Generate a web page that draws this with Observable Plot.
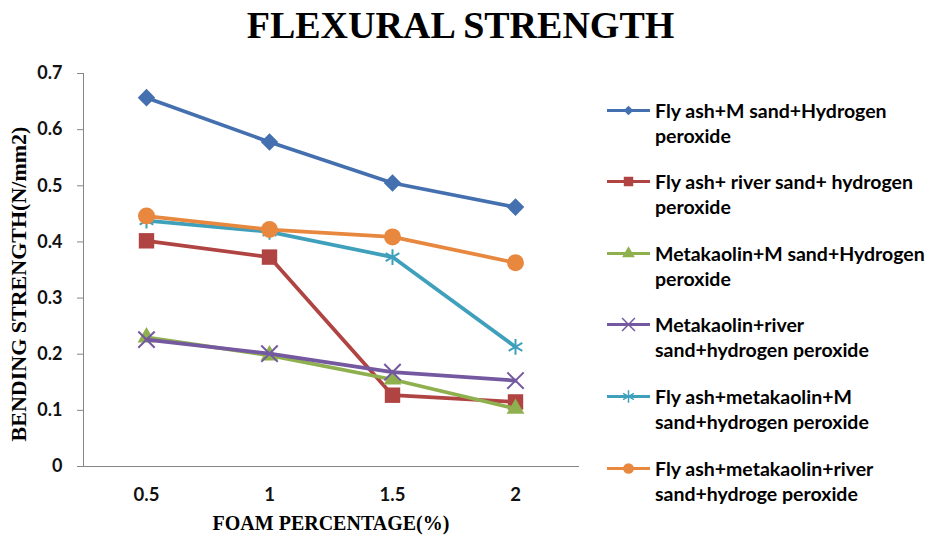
<!DOCTYPE html>
<html>
<head>
<meta charset="utf-8">
<script src="https://cdn.jsdelivr.net/npm/d3@7"></script>
<script src="https://cdn.jsdelivr.net/npm/@observablehq/plot@0.6"></script>
<style>
  body { margin: 0; background: #fff; }
  #wrap { position: relative; width: 930px; height: 536px; overflow: hidden; }
  #title {
    position: absolute; left: 0; top: 0; width: 921px; text-align: center;
    font: bold 38px "Liberation Serif", "Times New Roman", serif; line-height: 50px; color: #000;
  }
  #chart { position: absolute; left: 0; top: 50px; }
  #legend { position: absolute; left: 0; top: 0; }
  .entry { position: absolute; left: 605px; }
  .entry svg { position: absolute; left: 0; top: 0; }
  .entry .txt {
    position: absolute; left: 50px; top: 0; white-space: pre;
    font: bold 19.5px Lato, "Open Sans", sans-serif; line-height: 25px; color: #000;
  }
</style>
</head>
<body>
<div id="wrap">
  <div id="title">FLEXURAL STRENGTH</div>
  <div id="chart"></div>
  <div id="legend"></div>
</div>
<script>
// Foam percentage categories on the x axis
const categories = ["0.5", "1", "1.5", "2"];

// Bending strength (N/mm2) for each mix
const flyAshMSand = [0.657, 0.578, 0.505, 0.462];
const flyAshRiverSand = [0.402, 0.373, 0.127, 0.115];
const metakaolinMSand = [0.230, 0.198, 0.155, 0.103];
const metakaolinRiverSand = [0.226, 0.201, 0.168, 0.153];
const flyAshMetakaolinMSand = [0.438, 0.418, 0.373, 0.213];
const flyAshMetakaolinRiverSand = [0.446, 0.422, 0.409, 0.363];

const seriesNames = [
  "Fly ash+M sand+Hydrogen\nperoxide",
  "Fly ash+ river sand+ hydrogen\nperoxide",
  "Metakaolin+M sand+Hydrogen\nperoxide",
  "Metakaolin+river\nsand+hydrogen peroxide",
  "Fly ash+metakaolin+M\nsand+hydrogen peroxide",
  "Fly ash+metakaolin+river\nsand+hydroge peroxide"
];
const seriesValues = [
  flyAshMSand, flyAshRiverSand, metakaolinMSand,
  metakaolinRiverSand, flyAshMetakaolinMSand, flyAshMetakaolinRiverSand
];
const yTicks = [0, 0.1, 0.2, 0.3, 0.4, 0.5, 0.6, 0.7];

// Styling per series
const colors = ["#4470B0", "#B04442", "#8FB04E", "#7458A0", "#3FA0BC", "#E8883F"];
const symbols = ["diamond2", "square", "triangle", "times", "asterisk", "circle"];
const radii = [7.9, 8.7, 6.6, 7.5, 7.5, 8.5];
const filled = [true, true, true, false, false, true];

const rows = seriesNames.flatMap((name, i) =>
  categories.map((c, j) => ({series: name, cat: c, value: seriesValues[i][j]}))
);

const axisColor = "#868686";
const tickFont = "Lato, 'Open Sans', sans-serif";
const serif = "'Liberation Serif', 'Times New Roman', serif";

const seriesMarks = seriesNames.flatMap((name, i) => {
  const data = rows.filter(d => d.series === name);
  return [
    Plot.line(data, {x: "cat", y: "value", stroke: colors[i], strokeWidth: 3.75, strokeLinejoin: "round"}),
    Plot.dot(data, filled[i]
      ? {x: "cat", y: "value", symbol: () => symbols[i], r: radii[i], fill: colors[i], stroke: "none"}
      : {x: "cat", y: "value", symbol: () => symbols[i], r: radii[i], stroke: colors[i], strokeWidth: 2, fill: "none"})
  ];
});

const chart = Plot.plot({
  width: 930,
  height: 486,
  marginTop: 23,
  marginBottom: 70,
  marginLeft: 83,
  marginRight: 352,
  x: {type: "point", domain: categories, padding: 0.5},
  y: {domain: [0, 0.7]},
  symbol: {domain: symbols, range: symbols},
  marks: [
    Plot.axisY({ticks: yTicks, tickFormat: d => d === 0 ? "0" : d.toFixed(1), tickSize: 6, tickPadding: 15,
      stroke: axisColor, fill: "#111", fontSize: 18, fontWeight: "bold", fontFamily: tickFont, label: null}),
    Plot.axisX({tickSize: 0, tickPadding: 21, fill: "#111", fontSize: 18.5, fontWeight: "bold",
      fontFamily: tickFont, label: null}),
    Plot.frame({anchor: "left", stroke: axisColor}),
    Plot.frame({anchor: "bottom", stroke: axisColor}),
    Plot.text(["BENDING STRENGTH(N/mm2)"], {frameAnchor: "left", dx: -65, dy: 14, rotate: -90,
      fontSize: 22, fontWeight: "bold", fontFamily: serif, fill: "#000", textAnchor: "middle", lineAnchor: "middle"}),
    Plot.text(["FOAM PERCENTAGE(%)"], {frameAnchor: "bottom", dy: 63, fontSize: 20, fontWeight: "bold",
      fontFamily: serif, fill: "#000", textAnchor: "middle", lineAnchor: "bottom"}),
    ...seriesMarks
  ]
});
document.getElementById("chart").appendChild(chart);

// Legend: line segment with marker, then wrapped series label
const d3Symbols = {
  diamond2: d3.symbolDiamond2, square: d3.symbolSquare, triangle: d3.symbolTriangle,
  times: d3.symbolTimes, asterisk: d3.symbolAsterisk, circle: d3.symbolCircle
};
const legendSizes = [60, 90, 70, 110, 110, 90];
const legend = document.getElementById("legend");
seriesNames.forEach((name, i) => {
  const entry = document.createElement("div");
  entry.className = "entry";
  entry.style.top = (110 - 12.5 + i * 71.6) + "px";
  const path = d3.symbol(d3Symbols[symbols[i]], legendSizes[i])();
  const markerStyle = filled[i]
    ? `fill="${colors[i]}" stroke="none"`
    : `fill="none" stroke="${colors[i]}" stroke-width="1.5"`;
  entry.innerHTML =
    `<svg width="48" height="25"><line x1="2" x2="45" y1="12.5" y2="12.5" stroke="${colors[i]}" stroke-width="3"/>` +
    `<path d="${path}" transform="translate(23.5,12.5)" ${markerStyle}/></svg>` +
    `<div class="txt"></div>`;
  entry.querySelector(".txt").textContent = name;
  legend.appendChild(entry);
});
</script>
</body>
</html>
